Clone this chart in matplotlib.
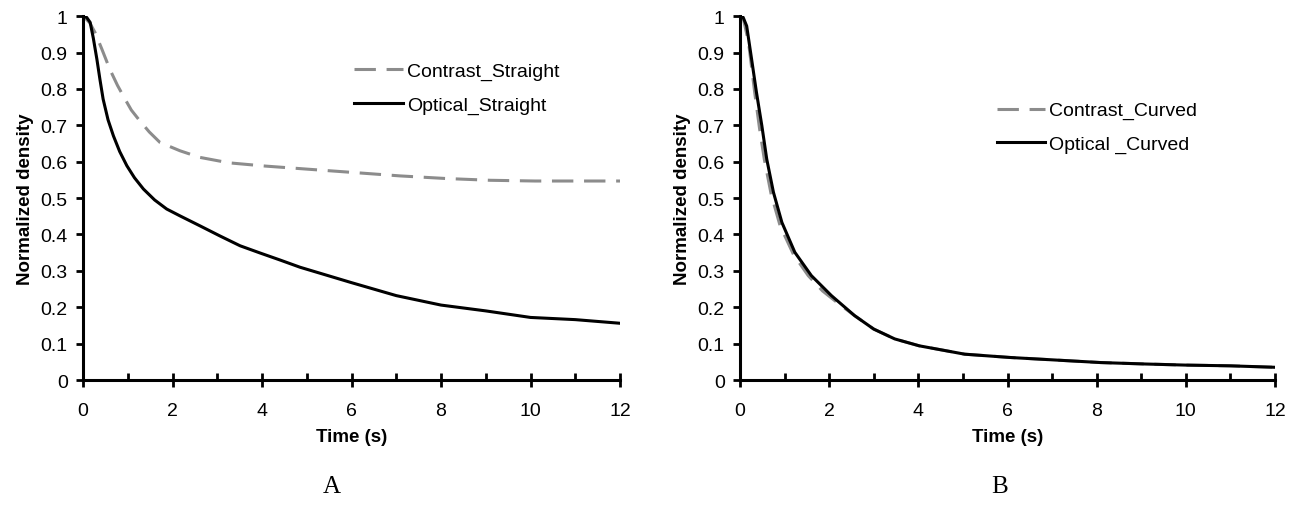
import matplotlib
matplotlib.use("Agg")
import matplotlib.pyplot as plt
from matplotlib.ticker import MultipleLocator, FixedLocator

plt.rcParams['font.family'] = ['Liberation Sans', 'DejaVu Sans']

# panel A: straight tube
t_cs = [0, 0.04, 0.15, 0.27, 0.42, 0.6, 0.77, 0.94, 1.08, 1.24, 1.48, 1.72, 2.17, 2.61, 3.26, 4.08, 5.08, 6.09, 7.09, 8.09, 9.1, 10.1, 11, 12]
y_cs = [1.0, 0.996, 0.982, 0.955, 0.91, 0.854, 0.81, 0.772, 0.742, 0.717, 0.682, 0.653, 0.63, 0.612, 0.597, 0.588, 0.579, 0.57, 0.561, 0.554, 0.549, 0.547, 0.547, 0.547]
t_os = [0, 0.08, 0.16, 0.23, 0.31, 0.38, 0.45, 0.56, 0.68, 0.82, 0.98, 1.15, 1.35, 1.6, 1.87, 2.17, 2.61, 3.06, 3.51, 3.96, 4.4, 4.85, 5.99, 7.0, 8.0, 9.0, 10.0, 11.0, 12]
y_os = [1.0, 0.997, 0.983, 0.94, 0.882, 0.825, 0.772, 0.715, 0.671, 0.628, 0.589, 0.556, 0.525, 0.495, 0.47, 0.451, 0.424, 0.396, 0.369, 0.349, 0.33, 0.31, 0.268, 0.232, 0.206, 0.19, 0.172, 0.166, 0.156]

# panel B: curved tube
t_cc = [0, 0.08, 0.19, 0.33, 0.44, 0.545, 0.7, 0.9, 1.2, 1.53, 1.85, 2.2, 2.57, 3.0, 3.47, 4.02, 5.04, 6.05, 7.07, 8.09, 9.1, 10, 11, 12]
y_cc = [1.0, 0.99, 0.93, 0.79, 0.69, 0.607, 0.51, 0.424, 0.345, 0.287, 0.245, 0.211, 0.177, 0.14, 0.113, 0.094, 0.071, 0.062, 0.055, 0.048, 0.044, 0.041, 0.039, 0.035]
t_oc = [0, 0.07, 0.15, 0.26, 0.37, 0.49, 0.6, 0.75, 0.94, 1.23, 1.6, 2.05, 2.57, 3.0, 3.47, 4.02, 5.04, 6.05, 7.07, 8.09, 9.1, 10, 11, 12]
y_oc = [1.0, 0.997, 0.973, 0.882, 0.79, 0.699, 0.607, 0.516, 0.433, 0.351, 0.287, 0.232, 0.177, 0.14, 0.113, 0.094, 0.071, 0.062, 0.055, 0.048, 0.044, 0.041, 0.039, 0.035]

yticks = [0, 0.1, 0.2, 0.3, 0.4, 0.5, 0.6, 0.7, 0.8, 0.9, 1]
ylabels = ["0", "0.1", "0.2", "0.3", "0.4", "0.5", "0.6", "0.7", "0.8", "0.9", "1"]

fig = plt.figure(figsize=(13.07, 5.06), dpi=100)
axA = fig.add_axes([83 / 1307, 0.247, 537 / 1307, 0.719])
axB = fig.add_axes([740 / 1307, 0.247, 535 / 1307, 0.719])

gray = "#8c8c8c"
lw = 2.2
dash = (7, 3.5)

axA.plot(t_cs, y_cs, color=gray, lw=lw, dashes=dash, label="Contrast_Straight")
axA.plot(t_os, y_os, color="black", lw=lw, label="Optical_Straight")
axB.plot(t_cc, y_cc, color=gray, lw=lw, dashes=dash, label="Contrast_Curved")
axB.plot(t_oc, y_oc, color="black", lw=lw, label="Optical _Curved")

for ax in (axA, axB):
    ax.set_xlim(0, 12)
    ax.set_ylim(0, 1)
    ax.spines['top'].set_visible(False)
    ax.spines['right'].set_visible(False)
    ax.spines['left'].set_linewidth(2.2)
    ax.spines['bottom'].set_linewidth(2.2)
    ax.set_yticks(yticks)
    ax.set_yticklabels(ylabels)
    ax.xaxis.set_major_locator(MultipleLocator(2))
    ax.xaxis.set_minor_locator(FixedLocator([1, 3, 5, 7, 9, 11]))
    ax.tick_params(axis='y', direction='out', length=5, width=2, labelsize=14, pad=6)
    ax.tick_params(axis='x', which='major', direction='inout', length=10, width=2, labelsize=14, pad=11)
    ax.tick_params(axis='x', which='minor', direction='in', length=5, width=2)
    ax.set_xlabel("Time (s)", fontsize=13.5, fontweight='bold', labelpad=6)
    ax.set_ylabel("Normalized density", fontsize=13.5, fontweight='bold', labelpad=5)

axA.legend(loc='upper left', bbox_to_anchor=(0.505, 0.873), frameon=False, fontsize=14,
           handlelength=2.5, handletextpad=0.2, labelspacing=0.8, borderpad=0, borderaxespad=0)
axB.legend(loc='upper left', bbox_to_anchor=(0.48, 0.765), frameon=False, fontsize=14,
           handlelength=2.5, handletextpad=0.2, labelspacing=0.8, borderpad=0, borderaxespad=0)

fig.text(332 / 1307, 1 - 487 / 506, "A", family=['Liberation Serif', 'DejaVu Serif'], fontsize=18, ha='center', va='center')
fig.text(1000 / 1307, 1 - 487 / 506, "B", family=['Liberation Serif', 'DejaVu Serif'], fontsize=18, ha='center', va='center')

fig.savefig("out.png", dpi=100)
